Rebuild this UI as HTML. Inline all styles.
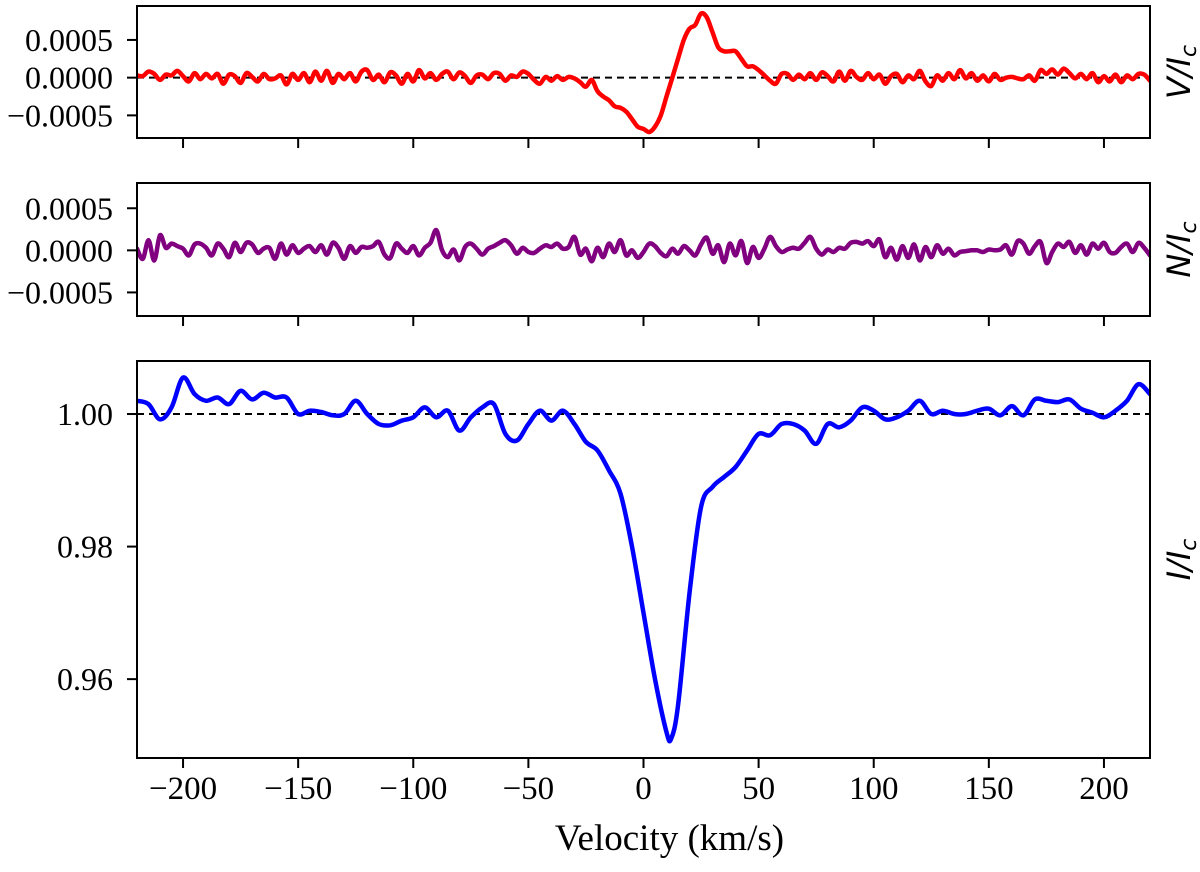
<!DOCTYPE html>
<html><head><meta charset="utf-8"><style>
html,body{margin:0;padding:0;background:#fff;}
svg text{font-family:"Liberation Serif",serif;fill:#000;}
</style></head><body>
<svg id="chart" width="1200" height="867" viewBox="0 0 1200 867" xmlns="http://www.w3.org/2000/svg"></svg>
<script>
// Data (velocity grid -220..220 km/s step 2.5 for V and N)
const vStokes = [0.3,0.2,0.8,0.5,-0.3,0.4,0.3,0.9,0.2,-0.5,0.6,-0.2,0.5,-0.1,0.5,-0.8,0.4,0.2,-0.7,0.6,0.1,-0.5,0.5,-0.2,-0.1,0.3,-0.9,0.5,-0.3,
0.6,-0.6,0.8,-0.4,0.9,-0.7,0.5,-0.2,0.6,-0.5,0.8,1.0,-0.3,0.4,-0.6,0.7,0.3,-0.8,0.5,-0.5,1.0,-0.1,0.6,-0.3,0.5,0.8,-0.2,0.7,
0.2,-0.7,0.3,0.4,-0.2,0.6,0.5,-0.4,0.3,0.1,0.8,0.5,-0.3,-0.8,0.1,-0.4,0.2,-0.3,0.1,-0.1,
-0.6,-1.2,-0.3,-1.8,-2.5,-3.0,-3.8,-4.0,-4.5,-5.5,-6.5,-6.8,-7.2,-6.5,-5,-2.5,0,2.5,5,6.5,7,8.5,8,6,4,3.5,3.5,3.5,2.5,1.5,1.5,1.0,0.3,-0.4,-0.8,0.5,
0.5,-0.3,0.4,-0.2,0.6,-0.3,0.7,0.2,-0.5,0.8,-0.4,0.9,0.1,-0.3,0.6,-0.2,0.4,-0.8,0.2,0.5,-0.6,0.3,-0.2,0.9,-0.5,-1.1,0.3,-0.4,0.6,-0.2,1.0,-0.1,0.6,-0.4,0.3,-0.5,0.5,-0.3,0.0,0.1,-0.1,-0.2,0.3,-0.4,1.0,0.5,1.1,0.4,1.2,0.6,-0.1,0.5,-0.2,0.6,-0.6,0.2,-0.5,0.4,-0.6,0.3,-0.2,0.5,0.4,-0.4];
const nNull = [0.2,-1.0,1.2,-1.2,1.8,0.3,0.8,0.5,0.2,-0.6,0.7,0.8,0.3,-0.6,0.8,0.2,-0.8,0.9,-0.2,0.9,0.7,-0.3,0.2,0.3,-1.0,0.8,-0.5,0.6,-0.3,0.2,0.5,-0.2,0.6,-0.5,0.9,0.3,-1.0,0.5,-0.3,0.4,0.3,0.5,1.0,-0.5,-0.9,0.8,0.2,-0.3,0.5,-0.6,0.3,0.9,2.4,0.0,-0.8,0.1,-1.2,0.4,0.8,0.2,-0.5,0.2,0.5,0.9,1.2,0.6,-0.4,0.3,-0.2,-0.3,0.2,0.6,0.4,0.8,0.2,0.4,1.6,-0.5,0.2,-1.3,0.3,-0.8,0.8,-0.2,1.2,-0.6,0.0,-0.9,-0.2,0.8,0.5,-0.3,-0.7,0.2,-0.4,0.5,0.0,-0.6,0.7,1.5,-0.4,0.6,-1.4,0.8,-0.6,1.1,-1.5,0.4,-0.9,0.2,1.6,0.5,-0.2,0.1,0.3,0.2,0.9,1.6,0.2,-0.5,0.1,-0.2,0.3,0.2,0.9,1.0,0.8,1.1,0.5,1.3,-0.8,0.3,-1.1,0.5,-0.9,0.7,-1.2,0.4,-0.8,0.6,-0.4,0.2,-0.6,-0.2,-0.1,0.0,0.0,-0.2,0.1,0.0,0.1,0.6,-0.5,1.1,0.8,-0.4,0.5,1.0,-1.5,-0.2,0.8,0.4,1.0,-0.3,0.6,-0.5,0.8,0.2,0.9,-0.2,-0.3,0.4,0.8,-0.2,0.9,0.3,-0.6];
const iVel = [-220,-215,-210,-205,-200,-195,-190,-185,-180,-175,-170,-165,-160,-155,-150,-145,-140,-135,-130,-125,-120,-115,-110,-105,-100,-95,-90,-85,-80,-75,-70,-65,-60,-55,-50,-45,-40,-35,-30,-25,-20,-15,-10,-5,0,5,10,12,15,20,25,30,35,40,45,50,55,60,65,70,75,80,85,90,95,100,105,110,115,120,125,130,135,140,145,150,155,160,165,170,175,180,185,190,195,200,205,210,215,220];
const iStokes = [1.0020,1.0015,0.9992,1.0010,1.0055,1.0030,1.0020,1.0025,1.0015,1.0035,1.0022,1.0032,1.0025,1.0025,1.0000,1.0005,1.0003,0.9998,1.0000,1.0020,1.0000,0.9985,0.9983,0.9990,0.9995,1.0010,0.9995,1.0005,0.9975,0.9995,1.0010,1.0015,0.9970,0.9960,0.9985,1.0005,0.9990,1.0005,0.9985,0.9958,0.9945,0.9915,0.9880,0.9800,0.9700,0.9600,0.9520,0.9510,0.9560,0.9730,0.9860,0.9890,0.9905,0.9920,0.9945,0.9970,0.9968,0.9985,0.9985,0.9975,0.9955,0.9985,0.9980,0.9990,1.0010,1.0005,0.9992,0.9995,1.0005,1.0020,1.0000,1.0005,1.0000,1.0000,1.0005,1.0008,0.9998,1.0012,0.9998,1.0022,1.0020,1.0018,1.0022,1.0008,1.0002,0.9995,1.0005,1.0020,1.0045,1.0030];
const xTicks = [-200,-150,-100,-50,0,50,100,150,200];
const polTicks = [0.0005,0,-0.0005];
const polTickLabels = ["0.0005","0.0000","\u22120.0005"];
const iTicks = [1.00,0.98,0.96];
const iTickLabels = ["1.00","0.98","0.96"];

const NS="http://www.w3.org/2000/svg";
const svg=document.getElementById('chart');
function el(tag,attrs,parent){const e=document.createElementNS(NS,tag);for(const k in attrs)e.setAttribute(k,attrs[k]);(parent||svg).appendChild(e);return e;}
const L=137,R=1150;
const xs=v=>L+(v+220)/440*(R-L);
const panels=[
 {name:'v-panel',top:6,bot:138,ymin:-0.0008,ymax:0.00095},
 {name:'n-panel',top:183,bot:316,ymin:-0.00078,ymax:0.0008},
 {name:'i-panel',top:361,bot:758,ymin:0.9481,ymax:1.0080}
];
panels.forEach(p=>{p.ys=v=>p.bot-(v-p.ymin)/(p.ymax-p.ymin)*(p.bot-p.top);});
const grid=vStokes.map((_,i)=>-220+2.5*i);

function drawPanel(p,ticks,labels,label,series,color,vels,scale){
  const g=el('g',{});
  
  
  const clipId=p.name+'-clip';
  const cp=el('clipPath',{id:clipId},g);el('rect',{x:L,y:p.top,width:R-L,height:p.bot-p.top},cp);
  const ref = p.name==='i-panel'?1.0:0;
  if(p.name!=='n-panel'){
    const d=el('line',{x1:L,x2:R,y1:p.ys(ref),y2:p.ys(ref),stroke:'#000','stroke-width':2,'stroke-dasharray':'7,5'},g);
    
    
  }
  const pts=series.map((v,i)=>[xs(vels[i]),p.ys(v*scale)]);
  let d='M'+pts[0][0].toFixed(1)+','+pts[0][1].toFixed(1);
  for(let i=0;i<pts.length-1;i++){
    const p0=pts[Math.max(0,i-1)],p1=pts[i],p2=pts[i+1],p3=pts[Math.min(pts.length-1,i+2)];
    const c1=[p1[0]+(p2[0]-p0[0])/6,p1[1]+(p2[1]-p0[1])/6];
    const c2=[p2[0]-(p3[0]-p1[0])/6,p2[1]-(p3[1]-p1[1])/6];
    d+=' C'+c1[0].toFixed(1)+','+c1[1].toFixed(1)+' '+c2[0].toFixed(1)+','+c2[1].toFixed(1)+' '+p2[0].toFixed(1)+','+p2[1].toFixed(1);
  }
  const line=el('path',{d:d,fill:'none',stroke:color,'stroke-width':4.5,'stroke-linejoin':'round','stroke-linecap':'round','clip-path':'url(#'+clipId+')'},g);
  
  
  const fr=el('rect',{x:L,y:p.top,width:R-L,height:p.bot-p.top,fill:'none',stroke:'#000','stroke-width':2},g);
  
  
  ticks.forEach((t,i)=>{
    const y=p.ys(t);
    el('line',{x1:L-10,x2:L,y1:y,y2:y,stroke:'#000','stroke-width':2},g);
    const tx=el('text',{x:L-24,y:y+11,'font-size':32,'text-anchor':'end'},g);
    tx.textContent=labels[i];
    
    
  });
  xTicks.forEach(t=>{
    el('line',{x1:xs(t),x2:xs(t),y1:p.bot,y2:p.bot+10,stroke:'#000','stroke-width':2},g);
  });
  const cy=(p.top+p.bot)/2;
  const lb=el('text',{x:0,y:0,'font-size':32,'font-style':'italic','text-anchor':'middle',style:'font-family:"DejaVu Sans","Liberation Sans",sans-serif',transform:'translate(1190,'+cy+') rotate(-90)'},g);
  lb.innerHTML=label+'/I<tspan font-size="22" dy="6">c</tspan>';
  
  
}
drawPanel(panels[0],polTicks,polTickLabels,'V',vStokes,'#ff0000',grid,1e-4);
drawPanel(panels[1],polTicks,polTickLabels,'N',nNull,'#800080',grid,1e-4);
drawPanel(panels[2],iTicks,iTickLabels,'I',iStokes,'#0000ff',iVel,1);
xTicks.forEach(t=>{
  const tx=el('text',{x:xs(t),y:799,'font-size':33,'text-anchor':'middle'});
  tx.textContent=(t<0?'\u2212':'')+Math.abs(t);
  
  
});
const xt=el('text',{x:(L+R)/2+26,y:850,'font-size':37,'text-anchor':'middle'});
xt.textContent='Velocity (km/s)';


</script>
</body></html>
